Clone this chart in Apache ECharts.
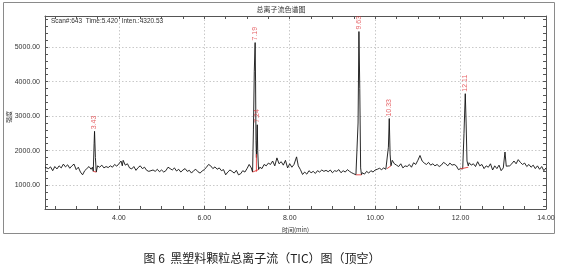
<!DOCTYPE html>
<html>
<head>
<meta charset="utf-8">
<script src="https://cdn.jsdelivr.net/npm/echarts@6/dist/echarts.min.js"></script>
<style>
html,body{margin:0;padding:0;background:#fff;}
#c{width:563px;height:265px;}
</style>
</head>
<body>
<div id="c"></div>
<script>
// Total ion chromatogram: [time (min), intensity]
const tic = [
[2.27,1520],[2.30,1560],[2.35,1480],[2.40,1530],[2.45,1420],[2.50,1540],[2.55,1470],[2.60,1560],[2.65,1500],[2.70,1610],
[2.75,1530],[2.80,1590],[2.85,1490],[2.90,1560],[2.95,1610],[3.00,1450],[3.05,1520],[3.10,1380],[3.15,1300],[3.20,1420],
[3.25,1480],[3.30,1540],[3.35,1460],[3.38,1520],[3.40,1400],[3.42,2200],[3.43,2560],[3.45,1800],[3.47,1380],[3.50,1560],
[3.55,1520],[3.60,1580],[3.65,1500],[3.70,1540],[3.75,1510],[3.80,1560],[3.85,1520],[3.90,1600],[3.95,1550],[4.00,1620],
[4.05,1700],[4.08,1560],[4.10,1720],[4.15,1580],[4.20,1620],[4.25,1500],[4.30,1470],[4.35,1540],[4.40,1430],[4.45,1510],
[4.50,1560],[4.55,1480],[4.60,1520],[4.65,1430],[4.70,1400],[4.75,1420],[4.80,1440],[4.85,1400],[4.90,1460],[4.95,1390],
[5.00,1440],[5.05,1380],[5.10,1420],[5.15,1520],[5.20,1480],[5.25,1440],[5.30,1500],[5.35,1410],[5.40,1460],[5.45,1380],
[5.50,1440],[5.55,1480],[5.60,1400],[5.65,1430],[5.70,1350],[5.75,1420],[5.80,1460],[5.85,1390],[5.90,1350],[5.95,1410],
[6.00,1450],[6.05,1520],[6.10,1600],[6.15,1560],[6.20,1480],[6.25,1530],[6.30,1460],[6.35,1500],[6.40,1420],[6.45,1450],
[6.50,1300],[6.55,1380],[6.60,1440],[6.65,1400],[6.70,1350],[6.75,1430],[6.80,1300],[6.85,1330],[6.90,1420],[6.95,1380],
[7.00,1480],[7.05,1600],[7.10,1500],[7.13,1380],[7.15,2600],[7.17,4300],[7.19,5130],[7.20,4000],[7.21,2300],[7.22,1800],
[7.24,2750],[7.25,2000],[7.27,1450],[7.30,1520],[7.35,1480],[7.40,1600],[7.45,1560],[7.50,1640],[7.55,1600],[7.60,1700],
[7.65,1560],[7.70,1790],[7.75,1620],[7.80,1680],[7.85,1580],[7.90,1720],[7.95,1500],[8.00,1620],[8.05,1520],[8.10,1600],
[8.16,1820],[8.20,1560],[8.25,1450],[8.30,1310],[8.35,1380],[8.40,1320],[8.45,1420],[8.50,1360],[8.55,1400],[8.60,1340],
[8.65,1420],[8.70,1380],[8.75,1440],[8.80,1400],[8.85,1430],[8.90,1390],[8.95,1440],[9.00,1360],[9.05,1420],[9.10,1400],
[9.15,1450],[9.20,1360],[9.25,1420],[9.30,1380],[9.35,1450],[9.40,1400],[9.45,1360],[9.50,1330],[9.55,1300],[9.58,1300],
[9.60,2800],[9.62,5450],[9.64,3800],[9.66,1500],[9.68,1300],[9.70,1360],[9.75,1320],[9.80,1400],[9.85,1350],[9.90,1420],
[9.95,1380],[10.00,1440],[10.05,1460],[10.10,1490],[10.15,1450],[10.20,1500],[10.25,1460],[10.28,1480],[10.31,2100],[10.33,2930],
[10.35,1900],[10.37,1560],[10.40,1720],[10.45,1620],[10.50,1580],[10.55,1540],[10.60,1620],[10.65,1500],[10.70,1560],[10.75,1540],
[10.80,1600],[10.85,1520],[10.90,1650],[10.95,1600],[11.00,1720],[11.05,1860],[11.10,1700],[11.15,1640],[11.20,1600],[11.25,1660],
[11.30,1580],[11.35,1620],[11.40,1560],[11.45,1600],[11.50,1540],[11.55,1580],[11.60,1660],[11.65,1620],[11.70,1560],[11.75,1640],
[11.80,1580],[11.85,1600],[11.90,1560],[11.95,1450],[12.00,1480],[12.05,1470],[12.08,2500],[12.11,3650],[12.13,2800],[12.15,1700],
[12.18,1560],[12.20,1650],[12.25,1580],[12.30,1620],[12.35,1540],[12.40,1680],[12.45,1560],[12.50,1600],[12.55,1480],[12.60,1560],
[12.65,1520],[12.70,1620],[12.75,1440],[12.80,1560],[12.85,1480],[12.90,1580],[12.95,1420],[13.00,1500],[13.04,1960],[13.07,1550],
[13.10,1500],[13.15,1560],[13.20,1620],[13.25,1700],[13.30,1620],[13.35,1740],[13.40,1660],[13.45,1600],[13.50,1640],[13.55,1540],
[13.60,1600],[13.65,1520],[13.70,1580],[13.75,1480],[13.80,1560],[13.85,1460],[13.90,1540],[13.95,1420],[14.00,1500]
];

// Integration baseline marks (red), null separates segments
const baseMarks = [
[3.40,1400],[3.47,1380],null,
[7.13,1380],[7.27,1450],null,
[7.22,1390],[7.22,1900],null,
[9.55,1300],[9.68,1300],null,
[10.28,1480],[10.37,1560],null,
[11.99,1470],[12.18,1520]
];

// Peak labels
const peakTimes   = [3.43, 7.19, 7.24, 9.63, 10.33, 12.11];
const peakHeights = [2560, 5130, 2750, 5450, 2930, 3650];
const peakLabels  = ['3.43','7.19','7.24','9.63','10.33','12.11'];

// Axis ticks and labels
const xLabelValues = [4, 6, 8, 10, 12, 14];
const xTickValues  = [2.5,3,3.5,4,4.5,5,5.5,6,6.5,7,7.5,8,8.5,9,9.5,10,10.5,11,11.5,12,12.5,13,13.5,14];
const yLabelValues = [1000, 2000, 3000, 4000, 5000];
const yTickValues  = [400,600,800,1000,1200,1400,1600,1800,2000,2200,2400,2600,2800,3000,3200,3400,3600,3800,4000,4200,4400,4600,4800,5000,5200,5400,5600,5800];

const XMIN = 2.27, XMAX = 14.0, YMIN = 310, YMAX = 5900;

const chart = echarts.init(document.getElementById('c'), null, {renderer: 'canvas'});
const axisCol = '#555';
const font = 'Liberation Sans, Arial, sans-serif';

const peakData = peakTimes.map((t, i) => ({value: [t, peakHeights[i]], name: peakLabels[i]}));

chart.setOption({
  animation: false,
  backgroundColor: '#fff',
  textStyle: {fontFamily: font},
  grid: {left: 45, right: 17, top: 16, bottom: 56, containLabel: false},
  xAxis: [
    {
      type: 'value', min: XMIN, max: XMAX, position: 'bottom',
      axisLine: {show: true, onZero: false, lineStyle: {color: axisCol, width: 1}},
      axisTick: {show: true, inside: true, length: 3, customValues: xTickValues, lineStyle: {color: axisCol, width: 1}},
      axisLabel: {show: true, customValues: xLabelValues, formatter: v => v.toFixed(2), fontSize: 7, color: '#333', margin: 6, fontFamily: font},
      splitLine: {show: false},
      name: '时间(min)', nameLocation: 'middle', nameGap: 16,
      nameTextStyle: {fontSize: 6, color: '#333', fontFamily: 'Noto Sans CJK SC'}
    },
    {
      type: 'value', min: XMIN, max: XMAX, position: 'top',
      axisLine: {show: true, onZero: false, lineStyle: {color: axisCol, width: 1}},
      axisTick: {show: true, inside: true, length: 3, customValues: xTickValues, lineStyle: {color: axisCol, width: 1}},
      axisLabel: {show: false},
      splitLine: {show: false}
    },
    {
      type: 'value', min: XMIN, max: XMAX, position: 'bottom',
      axisLine: {show: false},
      axisTick: {show: false, customValues: xLabelValues},
      axisLabel: {show: false},
      splitLine: {show: true, lineStyle: {color: '#bbb', width: 0.8, type: [1.5, 2]}}
    }
  ],
  yAxis: [
    {
      type: 'value', min: YMIN, max: YMAX, position: 'left',
      axisLine: {show: true, onZero: false, lineStyle: {color: axisCol, width: 1}},
      axisTick: {show: true, inside: true, length: 3, customValues: yTickValues, lineStyle: {color: axisCol, width: 1}},
      axisLabel: {show: true, customValues: yLabelValues, formatter: v => v.toFixed(2), fontSize: 7, color: '#333', margin: 5, fontFamily: font},
      splitLine: {show: false}
    },
    {
      type: 'value', min: YMIN, max: YMAX, position: 'right',
      axisLine: {show: true, onZero: false, lineStyle: {color: axisCol, width: 1}},
      axisTick: {show: true, inside: true, length: 3, customValues: yTickValues, lineStyle: {color: axisCol, width: 1}},
      axisLabel: {show: false},
      splitLine: {show: false}
    },
    {
      type: 'value', min: YMIN, max: YMAX, position: 'left',
      axisLine: {show: false},
      axisTick: {show: false, customValues: yLabelValues},
      axisLabel: {show: false},
      splitLine: {show: true, lineStyle: {color: '#bbb', width: 0.8, type: [1.5, 2]}}
    }
  ],
  series: [
    {
      type: 'line', xAxisIndex: 0, yAxisIndex: 0, data: tic,
      showSymbol: false, symbol: 'none',
      lineStyle: {color: '#111', width: 0.9}, z: 3
    },
    {
      type: 'line', xAxisIndex: 0, yAxisIndex: 0, data: baseMarks,
      showSymbol: false, symbol: 'none', connectNulls: false,
      lineStyle: {color: '#e23b3b', width: 0.9}, z: 4
    },
    {
      type: 'scatter', xAxisIndex: 0, yAxisIndex: 0, data: peakData,
      symbolSize: 0, z: 5,
      label: {
        show: true, position: 'top', distance: 2, rotate: 90,
        align: 'left', verticalAlign: 'middle',
        formatter: p => p.name, fontSize: 7, color: '#e0393e', fontFamily: font
      }
    }
  ],
  graphic: [
    {type: 'rect', shape: {x: 3.5, y: 2.5, width: 551, height: 231}, style: {fill: 'none', stroke: '#8a8a8a', lineWidth: 1}, z: 0, silent: true},
    {type: 'text', x: 281, y: 9, style: {text: '总离子流色谱图', fontSize: 7, fill: '#333', fontFamily: 'Noto Sans CJK SC', align: 'center', verticalAlign: 'middle'}},
    {type: 'text', x: 51, y: 21, style: {text: 'Scan#:643  Time:5.420  Inten.:4320.53', fontSize: 6.5, fill: '#333', fontFamily: font, align: 'left', verticalAlign: 'middle'}},
    {type: 'text', x: 9, y: 117, rotation: Math.PI / 2, style: {text: '强度', fontSize: 6, fill: '#333', fontFamily: 'Noto Sans CJK SC', align: 'center', verticalAlign: 'middle'}},
    {type: 'text', x: 262, y: 258, style: {text: '图 6  黑塑料颗粒总离子流（TIC）图（顶空）', fontSize: 12, fill: '#222', fontFamily: 'Noto Sans CJK SC', align: 'center', verticalAlign: 'middle'}}
  ]
});
</script>
</body>
</html>
